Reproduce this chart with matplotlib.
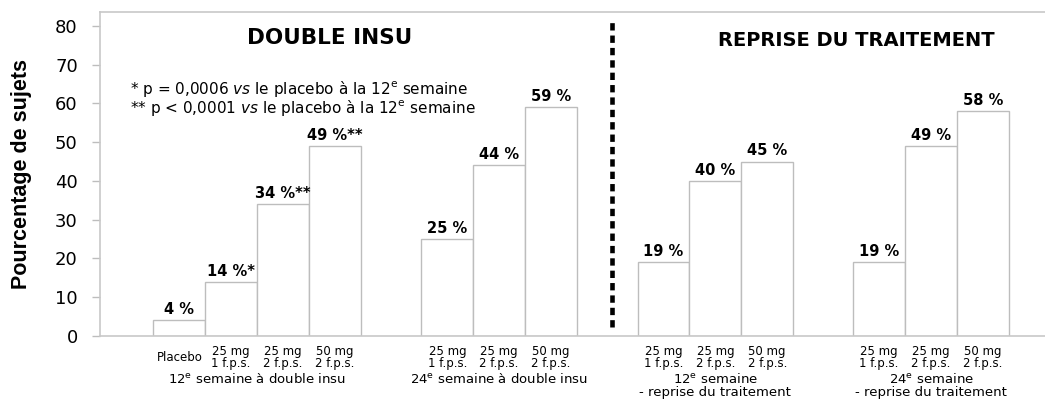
import matplotlib
matplotlib.use("Agg")
import matplotlib.pyplot as plt
from matplotlib.transforms import blended_transform_factory

plt.rcParams['font.family'] = ['DejaVu Sans']
plt.rcParams['mathtext.fontset'] = 'dejavusans'

# ---- data ----
groups = [
    "12$^{\\mathrm{e}}$ semaine à double insu",
    "24$^{\\mathrm{e}}$ semaine à double insu",
    "12$^{\\mathrm{e}}$ semaine\n- reprise du traitement",
    "24$^{\\mathrm{e}}$ semaine\n- reprise du traitement",
]
group_cats = [
    ["Placebo", "25 mg\n1 f.p.s.", "25 mg\n2 f.p.s.", "50 mg\n2 f.p.s."],
    ["25 mg\n1 f.p.s.", "25 mg\n2 f.p.s.", "50 mg\n2 f.p.s."],
    ["25 mg\n1 f.p.s.", "25 mg\n2 f.p.s.", "50 mg\n2 f.p.s."],
    ["25 mg\n1 f.p.s.", "25 mg\n2 f.p.s.", "50 mg\n2 f.p.s."],
]
group_values = [
    [4, 14, 34, 49],
    [25, 44, 59],
    [19, 40, 45],
    [19, 49, 58],
]
group_labels = [
    ["4 %", "14 %*", "34 %**", "49 %**"],
    ["25 %", "44 %", "59 %"],
    ["19 %", "40 %", "45 %"],
    ["19 %", "49 %", "58 %"],
]
section_titles = ["DOUBLE INSU", "REPRISE DU TRAITEMENT"]
notes = [
    "* p = 0,0006 $\\it{vs}$ le placebo à la 12$^{\\mathrm{e}}$ semaine",
    "** p < 0,0001 $\\it{vs}$ le placebo à la 12$^{\\mathrm{e}}$ semaine",
]
y_label = "Pourcentage de sujets"
y_ticks = [0, 10, 20, 30, 40, 50, 60, 70, 80]

# ---- layout ----
fig = plt.figure(figsize=(10.45, 4.0), dpi=100)
ax = fig.add_axes([100 / 1045, 1 - 336 / 400, 1 - 100 / 1045 + 0.01, (336 - 12) / 400])

group_starts = [0, 5.17, 9.34, 13.5]
xs, vals, labs, cats = [], [], [], []
group_centers = []
for gi, start in enumerate(group_starts):
    n = len(group_values[gi])
    gx = [start + i for i in range(n)]
    xs += gx
    vals += group_values[gi]
    labs += group_labels[gi]
    cats += group_cats[gi]
    group_centers.append((gx[0] + gx[-1]) / 2)

edge = "#bdbdbd"
ax.bar(xs, vals, width=1.0, color="white", edgecolor=edge, linewidth=1.0, zorder=2)
for x, v, l in zip(xs, vals, labs):
    ax.text(x, v + 0.8, l, ha="center", va="bottom", fontsize=10.5, fontweight="bold")

ax.set_xlim(-1.53, 16.90)
ax.set_ylim(0, 83.6)
ax.set_yticks(y_ticks)
ax.set_yticklabels([str(t) for t in y_ticks], fontsize=13)
ax.tick_params(axis="y", length=6, color=edge, width=1, pad=10)
ax.set_xticks(xs)
ax.set_xticklabels(cats, fontsize=8.5, linespacing=0.85)
for lab in ax.get_xticklabels():
    lab.set_verticalalignment("center")
ax.tick_params(axis="x", length=0, pad=15.5)

ax.spines["right"].set_visible(False)
for s in ["left", "top", "bottom"]:
    ax.spines[s].set_color("#c8c8c8")
    ax.spines[s].set_linewidth(1.2)

ax.set_ylabel(y_label, fontsize=15.5, fontweight="bold", family="Liberation Sans")
ax.yaxis.set_label_coords(-67 / 945, 0.5)

trans = blended_transform_factory(ax.transData, ax.transAxes)
for gc, g in zip(group_centers, groups):
    ax.text(gc, -36 / 324, g, transform=trans, ha="center", va="top", fontsize=9.5, linespacing=1.0)

# divider
ax.plot([8.35, 8.35], [2.3, 81.8], color="black", linewidth=3.3, linestyle=(0, (1.6, 1.1)), zorder=3)

# titles
ax.text(2.9, 77, section_titles[0], ha="center", va="center", fontsize=15.5, fontweight="bold")
ax.text(13.06, 76.2, section_titles[1], ha="center", va="center", fontsize=14, fontweight="bold")

ax.text(-0.95, 63.7, notes[0], ha="left", va="center", fontsize=11)
ax.text(-0.95, 58.8, notes[1], ha="left", va="center", fontsize=11)

fig.savefig("out.png", dpi=100)
